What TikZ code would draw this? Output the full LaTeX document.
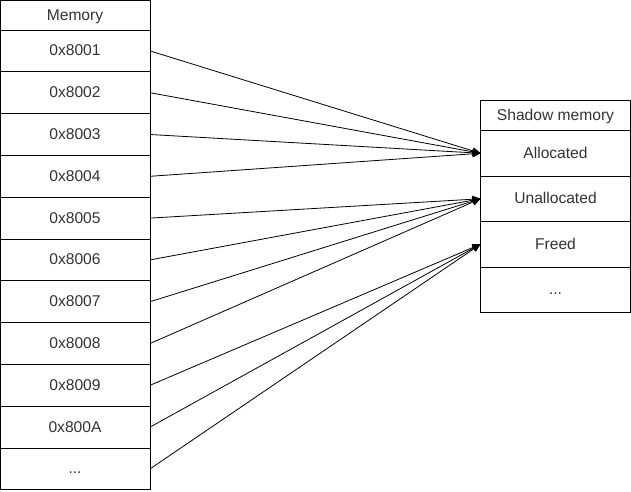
\documentclass[tikz,border=0pt]{standalone}
\usepackage{fontspec}
\setmainfont{Liberation Sans}
\usetikzlibrary{positioning,arrows.meta}

\begin{document}
\begin{tikzpicture}[x=1pt,y=-1pt,>={Triangle[length=8pt,width=7pt]},
    cell/.style={draw, line width=1pt, minimum width=150pt, minimum height=41.8pt,
        inner sep=0pt, outer sep=0pt, text height=11pt, text depth=1pt,
        font=\fontsize{15.6}{18}\selectfont, text=black!80},
    head/.style={cell, minimum height=30pt},
    slot/.style={cell, minimum height=45.5pt}]

    \useasboundingbox (0,0) rectangle (631,491);

    % memory column
    \node[head] (mem) at (75,15) {Memory};
    \node[cell, below=0pt of mem] (m1) {0x8001};
    \node[cell, below=0pt of m1] (m2) {0x8002};
    \node[cell, below=0pt of m2] (m3) {0x8003};
    \node[cell, below=0pt of m3] (m4) {0x8004};
    \node[cell, below=0pt of m4] (m5) {0x8005};
    \node[cell, below=0pt of m5] (m6) {0x8006};
    \node[cell, below=0pt of m6] (m7) {0x8007};
    \node[cell, below=0pt of m7] (m8) {0x8008};
    \node[cell, below=0pt of m8] (m9) {0x8009};
    \node[cell, below=0pt of m9] (mA) {0x800A};
    \node[cell, below=0pt of mA] (mdots) {...};

    % shadow column
    \node[head] (shadow) at (555.5,115.5) {Shadow memory};
    \node[slot, below=0pt of shadow] (alloc) {Allocated};
    \node[slot, below=0pt of alloc] (unalloc) {Unallocated};
    \node[slot, below=0pt of unalloc] (freed) {Freed};
    \node[slot, below=0pt of freed] (sdots) {...};

    \path[->, line width=0.8pt]
    (m1.east) edge (alloc.west)
    (m2.east) edge (alloc.west)
    (m3.east) edge (alloc.west)
    (m4.east) edge (alloc.west)
    (m5.east) edge (unalloc.west)
    (m6.east) edge (unalloc.west)
    (m7.east) edge (unalloc.west)
    (m8.east) edge (unalloc.west)
    (m9.east) edge (freed.west)
    (mA.east) edge (freed.west)
    (mdots.east) edge (freed.west);
\end{tikzpicture}
\end{document}
